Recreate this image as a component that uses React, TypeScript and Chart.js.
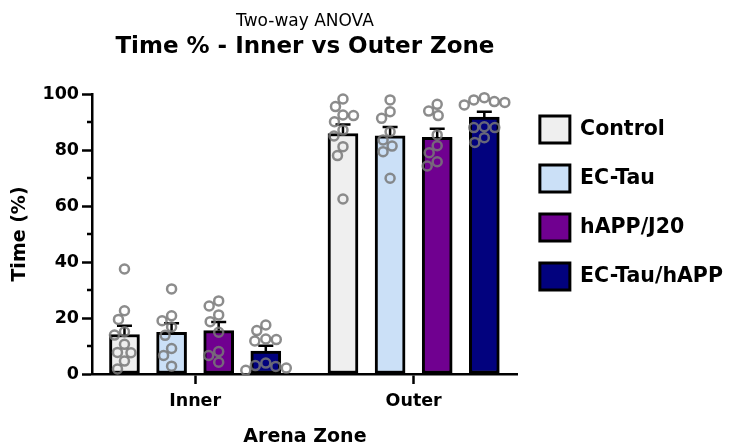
import { useEffect, useRef } from 'react';
import { Chart, registerables } from 'chart.js';

Chart.register(...registerables);

// ---- data -------------------------------------------------------------
const zones = ['Inner', 'Outer'];
const groups = ['Control', 'EC-Tau', 'hAPP/J20', 'EC-Tau/hAPP'];
const groupFills = ['#efefef', '#cbe0f7', '#700090', '#02027e'];

// group means, [Inner, Outer]
const controlMean = [14.1, 85.9];
const ecTauMean = [14.9, 85.1];
const happMean = [15.5, 84.5];
const ecTauHappMean = [8.2, 91.8];

// standard error of the mean, [Inner, Outer]
const controlSem = [3.1, 3.2];
const ecTauSem = [3.2, 3.1];
const happSem = [3.1, 3.1];
const ecTauHappSem = [1.9, 1.9];

// individual animals
const controlInner = [37.5, 22.6, 19.5, 15.1, 13.9, 10.6, 7.7, 7.6, 4.6, 1.8];
const controlOuter = [98.2, 95.5, 92.5, 92.3, 90.1, 87.1, 85.0, 81.2, 78.0, 62.5];
const ecTauInner = [30.4, 20.8, 19.0, 16.8, 13.8, 9.1, 6.6, 2.8];
const ecTauOuter = [97.9, 93.7, 91.3, 86.5, 83.6, 81.4, 79.4, 69.9];
const happInner = [26.1, 24.3, 21.1, 18.7, 14.9, 8.0, 6.6, 4.2];
const happOuter = [96.3, 93.9, 92.3, 85.4, 81.5, 79.0, 75.8, 74.3];
const ecTauHappInner = [17.5, 15.5, 12.5, 12.3, 11.8, 3.9, 3.0, 2.7, 2.1, 1.3];
const ecTauHappOuter = [98.7, 97.9, 97.3, 97.0, 96.1, 88.3, 88.0, 88.0, 84.4, 82.7];

const yMajorTicks = [0, 20, 40, 60, 80, 100];
const yMinorTicks = [10, 30, 50, 70, 90];

const means = [controlMean, ecTauMean, happMean, ecTauHappMean];
const sems = [controlSem, ecTauSem, happSem, ecTauHappSem];
const animals = [
  [controlInner, controlOuter],
  [ecTauInner, ecTauOuter],
  [happInner, happOuter],
  [ecTauHappInner, ecTauHappOuter],
];

// ---- layout constants -------------------------------------------------
const FONT = 'DejaVu Sans';
const X_MIN = -0.472; // zone-axis extent either side of the two zones
const X_MAX = 1.477;
const SLOT = 0.2156; // spacing between neighbouring bars, in zone units
const BAR_PX = 30; // bar thickness
const DOT_SPACING = 10.5; // px between dot centres in the swarm

// horizontal position (zone units) of group g's bar inside zone z
const slotX = (z: number, g: number) => z + (g - (groups.length - 1) / 2) * SLOT;

// Greedy beeswarm: each dot takes the horizontal offset closest to the
// bar centre that keeps it clear of the dots already placed (pixels).
function swarmOffsets(values: number[], toPx: (v: number) => number, d: number): number[] {
  const placed: { x: number; y: number }[] = [];
  const order = values.map((_, i) => i).sort((a, b) => values[b] - values[a]);
  const out = new Array(values.length).fill(0);
  for (const i of order) {
    const y = toPx(values[i]);
    let best = 0;
    for (let step = 0; step < 600; step++) {
      const cand = (step % 2 === 0 ? 1 : -1) * Math.ceil(step / 2) * 0.5;
      if (placed.every((p) => Math.hypot(p.x - cand, p.y - y) >= d)) {
        best = cand;
        break;
      }
    }
    placed.push({ x: best, y });
    out[i] = best;
  }
  return out;
}

const errorBars = {
  id: 'errorBars',
  afterDatasetDraw(chart: any, args: any) {
    if (args.index !== 0) return;
    const { ctx } = chart;
    const y = chart.scales.y;
    ctx.save();
    ctx.strokeStyle = '#000';
    ctx.lineWidth = 2.5;
    groups.forEach((_, d) => {
      const meta = chart.getDatasetMeta(d);
      meta.data.forEach((bar: any, z: number) => {
        const base = y.getPixelForValue(means[d][z]);
        const top = y.getPixelForValue(means[d][z] + sems[d][z]);
        ctx.beginPath();
        ctx.moveTo(bar.x, base);
        ctx.lineTo(bar.x, top);
        ctx.moveTo(bar.x - 7.5, top);
        ctx.lineTo(bar.x + 7.5, top);
        ctx.stroke();
      });
    });
    ctx.restore();
  },
};

const minorTicks = {
  id: 'minorTicks',
  afterDraw(chart: any) {
    const { ctx } = chart;
    const y = chart.scales.y;
    const x0 = chart.chartArea.left;
    ctx.save();
    ctx.strokeStyle = '#000';
    ctx.lineWidth = 2.5;
    yMinorTicks.forEach((v) => {
      const py = y.getPixelForValue(v);
      ctx.beginPath();
      ctx.moveTo(x0 - 5, py);
      ctx.lineTo(x0, py);
      ctx.stroke();
    });
    ctx.restore();
  },
};

export default function App() {
  const ref = useRef<HTMLCanvasElement>(null);

  useEffect(() => {
    document.body.style.margin = '0';
    const canvas = ref.current;
    if (!canvas) return;

    const barSets = groups.map((g, i) => ({
      type: 'bar' as const,
      label: g,
      data: zones.map((_, z) => ({ x: slotX(z, i), y: means[i][z] })),
      grouped: false,
      barThickness: BAR_PX,
      backgroundColor: groupFills[i],
      borderColor: '#000',
      borderWidth: 3,
      borderSkipped: false,
      order: 1,
    }));

    const dotSets = groups.map((g) => ({
      type: 'scatter' as const,
      label: g,
      data: [] as { x: number; y: number }[],
      order: 0,
      clip: false,
      pointRadius: 4.5,
      pointHoverRadius: 4.5,
      pointBorderWidth: 2.5,
      pointBackgroundColor: 'rgba(0,0,0,0)',
      pointBorderColor: 'rgba(120,120,120,0.85)',
    }));

    const chart = new Chart(canvas, {
      type: 'bar',
      data: { datasets: [...barSets, ...dotSets] as any },
      options: {
        responsive: false,
        animation: false,
        events: [],
        layout: { padding: { left: 0, right: 3.1, top: 0, bottom: 0 } },
        font: { family: FONT },
        scales: {
          x: {
            type: 'linear',
            min: X_MIN,
            max: X_MAX,
            offset: false,
            afterFit: (s: any) => {
              s.height = 70;
            },
            afterBuildTicks: (s: any) => {
              s.ticks = zones.map((_, i) => ({ value: i }));
            },
            border: { display: true, color: '#000', width: 2.5 },
            grid: {
              display: true,
              offset: false,
              drawOnChartArea: false,
              drawTicks: true,
              tickLength: 10,
              tickWidth: 2.5,
              tickColor: '#000',
            },
            ticks: {
              autoSkip: false,
              maxRotation: 0,
              color: '#000',
              padding: 7,
              font: { family: FONT, size: 17.5, weight: 'bold' },
              callback: (v: any) => zones[Math.round(Number(v))] ?? '',
            },
            title: {
              display: true,
              text: 'Arena Zone',
              color: '#000',
              padding: { top: 0, bottom: 0 },
              font: { family: FONT, size: 19, weight: 'bold', lineHeight: 0.75 },
            },
          },
          y: {
            type: 'linear',
            min: 0,
            max: 100,
            afterFit: (s: any) => {
              s.width = 92;
            },
            border: { display: true, color: '#000', width: 2.5 },
            grid: {
              display: true,
              drawOnChartArea: false,
              drawTicks: true,
              tickLength: 10,
              tickWidth: 2.5,
              tickColor: (c: any) =>
                c.tick && yMajorTicks.includes(c.tick.value) ? '#000' : 'rgba(0,0,0,0)',
            },
            ticks: {
              stepSize: 10,
              autoSkip: false,
              color: '#000',
              padding: 3,
              font: { family: FONT, size: 17.5, weight: 'bold' },
              callback: (v: any) => (yMajorTicks.includes(Number(v)) ? String(v) : ''),
            },
            title: {
              display: true,
              text: 'Time (%)',
              color: '#000',
              padding: { top: 11, bottom: 0 },
              font: { family: FONT, size: 19, weight: 'bold', lineHeight: 1 },
            },
          },
        },
        plugins: {
          tooltip: { enabled: false },
          title: {
            display: true,
            fullSize: false,
            text: 'Two-way ANOVA',
            color: '#000',
            padding: { top: 11, bottom: 0 },
            font: { family: FONT, size: 17, weight: 'normal' },
          },
          subtitle: {
            display: true,
            fullSize: false,
            text: 'Time % - Inner vs Outer Zone',
            color: '#000',
            padding: { top: 1.8, bottom: 33.2 },
            font: { family: FONT, size: 23, weight: 'bold' },
          },
          legend: {
            display: true,
            position: 'right',
            align: 'start',
            fullSize: false,
            maxWidth: 300,
            labels: {
              boxWidth: 30,
              boxHeight: 27,
              padding: 22,
              color: '#000',
              font: { family: FONT, size: 20.5, weight: 'bold' },
              filter: (item: any) => item.datasetIndex < groups.length,
            },
          },
        },
      } as any,
      plugins: [errorBars, minorTicks],
    });

    // spread each group's animals into a swarm centred on its bar
    const area = chart.chartArea;
    const pxPerUnit = (area.right - area.left) / (X_MAX - X_MIN);
    const yScale = chart.scales.y;
    groups.forEach((_, g) => {
      const pts: { x: number; y: number }[] = [];
      zones.forEach((__, z) => {
        const vals = animals[g][z];
        const offs = swarmOffsets(vals, (v) => yScale.getPixelForValue(v), DOT_SPACING);
        vals.forEach((v, k) => {
          pts.push({ x: slotX(z, g) + offs[k] / pxPerUnit, y: v });
        });
      });
      (chart.data.datasets[groups.length + g] as any).data = pts;
    });
    chart.update();

    return () => chart.destroy();
  }, []);

  return (
    <div style={{ position: 'absolute', left: 0, top: 0, width: 736, height: 444, background: '#fff' }}>
      <canvas ref={ref} width={736} height={444} style={{ display: 'block' }} />
    </div>
  );
}
